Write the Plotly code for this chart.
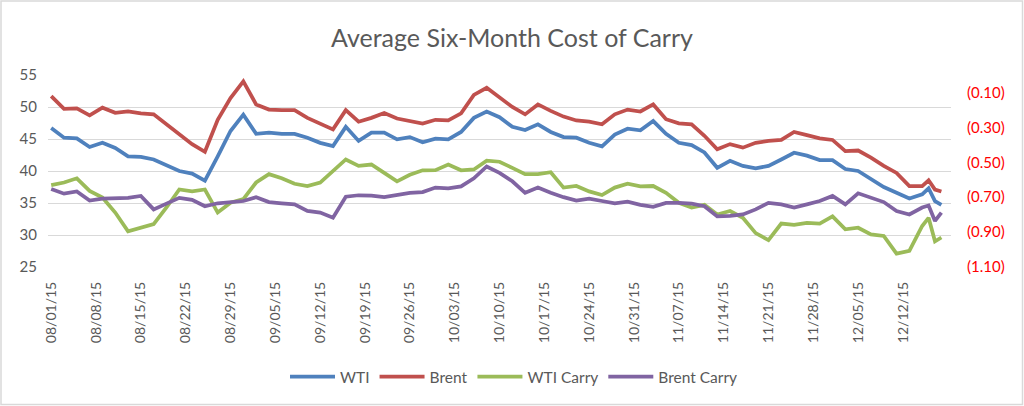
import pandas as pd
import plotly.graph_objects as go

title = "Average Six-Month Cost of Carry"
start_date = "2015-08-01"
# day offsets from 08/01/15 of the sampled points
day_offsets = [0, 2, 4, 6, 8, 10, 12, 14, 16, 18, 20, 22, 24, 26, 28, 30, 32, 34, 36, 38,
               40, 42, 44, 46, 48, 50, 52, 54, 56, 58, 60, 62, 64, 66, 68, 70, 72, 74, 76, 78,
               80, 82, 84, 86, 88, 90, 92, 94, 96, 98, 100, 102, 104, 106, 108, 110, 112, 114,
               116, 118, 120, 122, 124, 126, 128, 130, 132, 134, 136, 137, 138, 139]

wti = [46.7, 45.2, 45.1, 43.75, 44.4, 43.6, 42.3, 42.2, 41.8, 40.9, 40.0, 39.6, 38.5, 42.3,
       46.25, 48.8, 45.8, 46.0, 45.8, 45.8, 45.2, 44.4, 43.9, 46.9, 44.7, 46.0, 46.0, 44.95,
       45.3, 44.5, 45.05, 44.95, 46.1, 48.3, 49.3, 48.4, 46.9, 46.4, 47.3, 46.1, 45.3, 45.2,
       44.4, 43.85, 45.7, 46.6, 46.35, 47.8, 45.8, 44.4, 44.05, 42.9, 40.5, 41.6, 40.8, 40.4,
       40.8, 41.8, 42.85, 42.4, 41.7, 41.7, 40.3, 40.0, 38.7, 37.5, 36.6, 35.7, 36.35, 37.3,
       35.3, 34.7]

brent = [51.7, 49.7, 49.8, 48.7, 49.9, 49.1, 49.3, 49.0, 48.85, 47.3, 45.7, 44.2, 43.0, 48.0,
         51.4, 54.0, 50.4, 49.6, 49.5, 49.5, 48.3, 47.4, 46.5, 49.5, 47.7, 48.3, 49.05, 48.2,
         47.8, 47.4, 48.0, 47.9, 49.0, 51.9, 53.0, 51.5, 50.0, 48.85, 50.4, 49.4, 48.5, 47.9,
         47.7, 47.3, 48.85, 49.6, 49.3, 50.4, 48.1, 47.45, 47.3, 45.5, 43.4, 44.2, 43.65, 44.4,
         44.7, 44.85, 46.1, 45.6, 45.1, 44.85, 43.1, 43.2, 42.1, 40.8, 39.7, 37.65, 37.65, 38.55,
         37.1, 36.8]

wti_carry = [-0.631, -0.616, -0.592, -0.664, -0.702, -0.788, -0.895, -0.876, -0.854, -0.759,
             -0.656, -0.667, -0.656, -0.788, -0.732, -0.711, -0.616, -0.568, -0.592, -0.623,
             -0.636, -0.616, -0.550, -0.484, -0.521, -0.513, -0.561, -0.609, -0.572, -0.546,
             -0.545, -0.513, -0.546, -0.541, -0.491, -0.497, -0.532, -0.568, -0.568, -0.557,
             -0.645, -0.636, -0.667, -0.688, -0.645, -0.623, -0.638, -0.636, -0.675, -0.732,
             -0.759, -0.744, -0.799, -0.779, -0.818, -0.906, -0.946, -0.851, -0.858, -0.847,
             -0.851, -0.810, -0.884, -0.875, -0.913, -0.922, -1.023, -1.008, -0.865, -0.818,
             -0.953, -0.931]

brent_carry = [-0.653, -0.680, -0.667, -0.719, -0.708, -0.708, -0.704, -0.693, -0.770, -0.737,
               -0.704, -0.715, -0.752, -0.735, -0.730, -0.722, -0.700, -0.728, -0.735, -0.741,
               -0.779, -0.788, -0.818, -0.697, -0.689, -0.691, -0.699, -0.688, -0.675, -0.671,
               -0.645, -0.649, -0.638, -0.592, -0.524, -0.561, -0.609, -0.675, -0.645, -0.675,
               -0.700, -0.719, -0.708, -0.722, -0.735, -0.726, -0.744, -0.755, -0.733, -0.733,
               -0.737, -0.752, -0.810, -0.807, -0.799, -0.770, -0.733, -0.741, -0.759, -0.741,
               -0.722, -0.693, -0.741, -0.678, -0.704, -0.728, -0.779, -0.799, -0.759, -0.748,
               -0.836, -0.788]

x_tick_dates = ["2015-08-01", "2015-08-08", "2015-08-15", "2015-08-22", "2015-08-29",
                "2015-09-05", "2015-09-12", "2015-09-19", "2015-09-26", "2015-10-03",
                "2015-10-10", "2015-10-17", "2015-10-24", "2015-10-31", "2015-11-07",
                "2015-11-14", "2015-11-21", "2015-11-28", "2015-12-05", "2015-12-12"]
left_ticks = [25, 30, 35, 40, 45, 50, 55]
right_tickvals = [-1.1, -0.9, -0.7, -0.5, -0.3, -0.1]
right_ticktext = ["(1.10)", "(0.90)", "(0.70)", "(0.50)", "(0.30)", "(0.10)"]

dates = pd.to_datetime(start_date) + pd.to_timedelta(day_offsets, unit="D")

FONT = "Lato, 'Open Sans', sans-serif"
GRAY = "#595959"

fig = go.Figure()
series = [
    ("WTI", wti, "#4F81BD", "y"),
    ("Brent", brent, "#C0504D", "y"),
    ("WTI Carry", wti_carry, "#9BBB59", "y2"),
    ("Brent Carry", brent_carry, "#8064A2", "y2"),
]
for name, vals, color, ax in series:
    fig.add_trace(go.Scatter(x=dates, y=vals, name=name, mode="lines", yaxis=ax,
                             line=dict(color=color, width=3.75)))

W, H = 1024, 406
L, R, T, B = 48, 73, 75, 139
pw, ph = W - L - R, H - T - B

fig.update_layout(
    width=W, height=H,
    margin=dict(l=L, r=R, t=T, b=B, autoexpand=False),
    paper_bgcolor="white", plot_bgcolor="white",
    font=dict(family=FONT, color=GRAY, size=14),
    title=dict(text=title, x=0.5, xref="container", xanchor="center",
               y=1 - 38 / H, yref="container", yanchor="middle",
               font=dict(family=FONT, size=25, color=GRAY)),
    xaxis=dict(type="date", automargin=False,
               range=["2015-07-31 12:00", "2015-12-19 12:00"],
               tickvals=x_tick_dates,
               tickformat="%m/%d/%y", tickangle=-90,
               showgrid=False, zeroline=False, showline=False,
               ticks="", ticklabelstandoff=11,
               tickfont=dict(family=FONT, size=14, color=GRAY)),
    yaxis=dict(range=[25, 55], tickvals=left_ticks, showgrid=True, automargin=False,
               gridcolor="#D9D9D9", gridwidth=1.2, zeroline=False, showline=False,
               ticks="", ticklabelstandoff=10,
               tickfont=dict(family=FONT, size=15, color=GRAY)),
    yaxis2=dict(range=[-1.1, 0], overlaying="y", side="right", automargin=False,
                tickvals=right_tickvals, ticktext=right_ticktext,
                showgrid=False, zeroline=False, showline=False,
                ticks="", ticklabelstandoff=15,
                tickfont=dict(family=FONT, size=15, color="#FF0000")),
    legend=dict(orientation="h", xref="container", x=514 / W, xanchor="center",
                yref="container", y=1 - 377 / H, yanchor="middle",
                font=dict(family=FONT, size=15.5, color=GRAY),
                itemwidth=45, traceorder="normal", bgcolor="rgba(0,0,0,0)"),
    showlegend=True,
)

fig.add_shape(type="rect", xref="paper", yref="paper",
              x0=(1 - L) / pw, x1=(W - 1.5 - L) / pw,
              y0=(H - B - (H - 1.5)) / ph, y1=(H - B - 1) / ph,
              line=dict(color="#D9D9D9", width=1.5), fillcolor="rgba(0,0,0,0)",
              layer="below")

fig.write_html("out.html",
               config={"displayModeBar": False},
               post_script="document.body.style.margin='0';document.body.style.overflow='hidden';")
